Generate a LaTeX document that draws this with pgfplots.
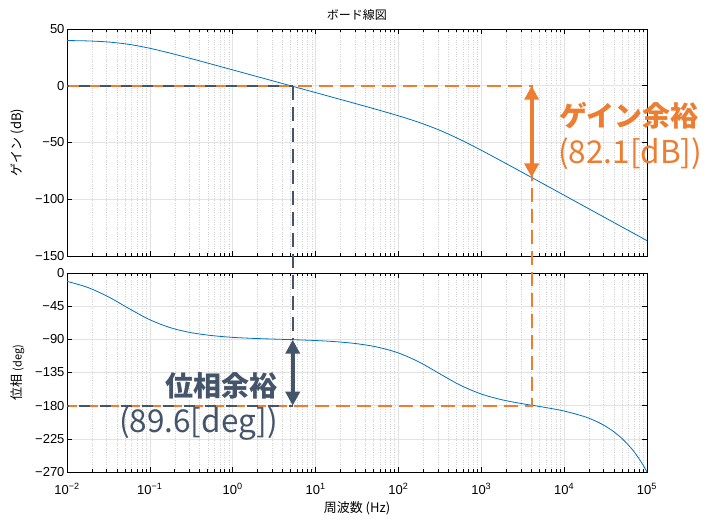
\documentclass[border=0pt]{standalone}
\usepackage{fontspec}
\setmainfont{Liberation Sans}
\newfontfamily\jp{Noto Sans CJK JP}
\usepackage{pgfplots}
\pgfplotsset{compat=1.18}
\usepackage{pgfplotstable}
\usetikzlibrary{arrows.meta}

\definecolor{curve}{RGB}{0,114,189}
\definecolor{mgnorange}{RGB}{237,125,49}
\definecolor{mgndark}{RGB}{68,84,106}

% frequency [Hz], gain [dB], phase [deg]
\pgfplotstableread{
f g p
0.01 39.83 -11.31
0.01778 39.48 -19.57
0.03162 38.54 -32.31
0.05623 36.45 -48.36
0.1 33.01 -63.43
0.1778 28.65 -74.29
0.3162 23.87 -81.02
0.5623 18.95 -84.92
1 13.97 -87.33
1.778 8.98 -88.73
3.162 3.98 -89.69
5.623 -1.02 -90.56
10 -6.03 -91.62
17.78 -11.04 -93.25
31.62 -16.07 -95.96
56.23 -21.17 -100.62
100 -26.48 -108.49
177.8 -32.33 -120.79
316.2 -39.27 -136.79
562.3 -47.57 -152.42
1000 -56.85 -164.20
1778 -66.60 -172.02
3162 -76.52 -177.43
3981 -80.50 -179.27
5623 -86.49 -182.01
10000 -96.48 -187.28
17783 -106.48 -195.03
25119 -112.48 -201.92
31623 -116.48 -207.92
39811 -120.48 -215.40
50119 -124.48 -224.77
63096 -128.48 -236.52
70795 -130.48 -243.50
79433 -132.48 -251.27
89125 -134.48 -260.00
100000 -136.48 -269.83
}\bode

\pgfplotsset{bodeax/.style={
  scale only axis, width=580pt,
  xmin=0.01, xmax=1e5,
  xtick={1e-2,1e-1,1,10,100,1000,1e4,1e5},
  minor xtick={2e-2,3e-2,4e-2,5e-2,6e-2,7e-2,8e-2,9e-2,
    0.2,0.3,0.4,0.5,0.6,0.7,0.8,0.9,2,3,4,5,6,7,8,9,
    20,30,40,50,60,70,80,90,200,300,400,500,600,700,800,900,
    2000,3000,4000,5000,6000,7000,8000,9000,
    20000,30000,40000,50000,60000,70000,80000,90000},
  tick align=inside,
  major tick length=5pt, minor tick length=3pt,
  every tick/.style={black, line width=0.6pt},
  axis line style={line width=0.9pt},
  xmajorgrids, ymajorgrids, xminorgrids,
  major grid style={gray!22, line width=0.6pt},
  minor grid style={gray!35, dotted, line width=0.5pt},
  tick label style={font=\fontsize{13}{15}\selectfont},
  yticklabel style={xshift=1pt},
  xticklabel style={yshift=-8pt},
  label style={font=\fontsize{13}{15}\selectfont},
  ylabel style={yshift=4pt},
}}

\begin{document}
\begin{tikzpicture}[x=1pt,y=1pt]
\path[use as bounding box] (0,0) rectangle (715,522);

\begin{semilogxaxis}[bodeax, at={(67pt,266pt)}, anchor=south west, height=227pt,
  ymin=-150, ymax=50,
  ytick={-150,-100,-50,0,50},
  yticklabels={−150,−100,−50,0,50},
  xticklabels={},
  title={\jp ボード線図},
  title style={font=\fontsize{12}{14}\selectfont, yshift=-1pt},
  ylabel={\jp ゲイン (dB)}]
\addplot[curve, line width=0.8pt, smooth] table[x=f, y=g] {\bode};
\coordinate (A0) at (axis cs:0.01,0);
\coordinate (Bx) at (axis cs:5.3,0);
\coordinate (Gx) at (axis cs:4055,0);
\coordinate (Gc) at (axis cs:4055,-80.8);
\end{semilogxaxis}

\begin{semilogxaxis}[bodeax, at={(67pt,50pt)}, anchor=south west, height=199pt,
  ymin=-270, ymax=0,
  ytick={-270,-225,-180,-135,-90,-45,0},
  yticklabels={−270,−225,−180,−135,−90,−45,0},
  xticklabels={10\textsuperscript{−2},10\textsuperscript{−1},10\textsuperscript{0},10\textsuperscript{1},10\textsuperscript{2},10\textsuperscript{3},10\textsuperscript{4},10\textsuperscript{5}},
  xlabel={\jp 周波数 (Hz)},
  xlabel style={yshift=0pt},
  ylabel={\jp 位相 {\fontsize{11}{13}\selectfont(deg)}}]
\addplot[curve, line width=0.8pt, smooth] table[x=f, y=p] {\bode};
\coordinate (P0) at (axis cs:0.01,-180);
\coordinate (Pp) at (axis cs:5.3,-90.5);
\coordinate (Pb) at (axis cs:5.3,-180);
\coordinate (Pg) at (axis cs:4055,-180);
\end{semilogxaxis}

% margin guide lines
\draw[mgnorange, line width=2pt, dash pattern=on 14pt off 7pt] (A0) -- (Gx) -- (Pg) -- (P0);
\draw[mgndark, line width=2pt, dash pattern=on 11pt off 10pt, dash phase=9pt] (A0) -- (Bx);
\draw[mgndark, line width=2pt, dash pattern=on 11pt off 10pt, dash phase=9pt] (P0) -- (Pb);
\draw[mgndark, line width=2pt, dash pattern=on 14pt off 7pt] (Bx) -- (Pp);

\draw[mgnorange, line width=4pt, {Triangle[length=14pt,width=14pt]}-{Triangle[length=14pt,width=14pt]}] (Gx) -- (Gc);
\draw[mgndark, line width=4pt, {Triangle[length=14pt,width=14pt]}-{Triangle[length=14pt,width=14pt]}] (Pp) -- (Pb);

\node[anchor=west, inner sep=0, text=mgnorange, font=\jp\bfseries\fontsize{28}{30}\selectfont] at (559,406) {ゲイン余裕};
\node[anchor=west, inner sep=0, text=mgnorange, font=\jp\fontsize{31.5}{33}\selectfont] at (558,368) {(82.1[dB])};
\node[anchor=east, inner sep=0, text=mgndark, font=\jp\bfseries\fontsize{28}{30}\selectfont] at (278,136) {位相余裕};
\node[anchor=east, inner sep=0, text=mgndark, font=\jp\fontsize{31.5}{33}\selectfont] at (278,98) {(89.6[deg])};
\end{tikzpicture}
\end{document}
